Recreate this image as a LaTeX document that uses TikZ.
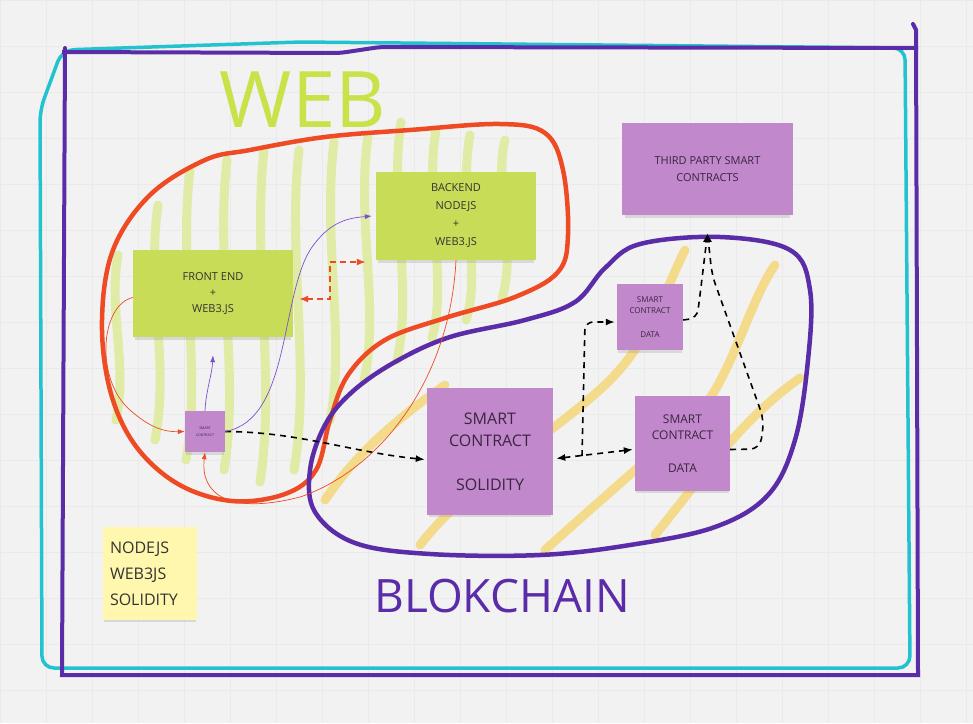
\documentclass[tikz,border=0pt]{standalone}
\usepackage{fontspec}
\setmainfont{Open Sans}
\usetikzlibrary{arrows.meta,shadows}

\definecolor{boardgray}{HTML}{F2F2F2}
\definecolor{gridgray}{HTML}{EAEAEA}
\definecolor{limefill}{HTML}{C9DC58}
\definecolor{violetfill}{HTML}{C188CB}
\definecolor{yellowfill}{HTML}{FFF7AE}
\definecolor{notetext}{HTML}{333333}
\definecolor{violettext}{HTML}{3B2542}
\definecolor{weblime}{HTML}{CBE14A}
\definecolor{webstroke}{HTML}{E0ECA6}
\definecolor{chainyellow}{HTML}{F5D672}
\definecolor{webred}{HTML}{EE4A24}
\definecolor{chainviolet}{HTML}{5B2CA8}
\definecolor{thinviolet}{HTML}{7A50D0}
\definecolor{frameteal}{HTML}{22C3CF}

\begin{document}
\begin{tikzpicture}[
  x=1pt, y=-1pt,
  stickynote/.style={inner sep=0pt, align=center, text=notetext,
    drop shadow={shadow xshift=0pt, shadow yshift=-4pt, shadow scale=0.97, opacity=0.22}},
  limenote/.style={stickynote, fill=limefill},
  violetnote/.style={stickynote, fill=violetfill, text=violettext},
  yellownote/.style={stickynote, fill=yellowfill},
  webstripe/.style={draw=webstroke, line width=9pt, line cap=round},
  chainstripe/.style={draw=chainyellow, line width=9pt, line cap=round, opacity=0.8},
  webblob/.style={draw=webred, line width=4.5pt},
  chainblob/.style={draw=chainviolet, line width=4.5pt},
  chainarrow/.style={line width=1.6pt, dash pattern=on 6pt off 5pt, -{Latex[length=9pt,width=7pt]}},
  webarrow/.style={draw=webred, line width=1.6pt, dash pattern=on 6pt off 4pt, -{Latex[length=9pt,width=7pt]}},
  thinred/.style={draw=webred, line width=0.7pt, -{Latex[length=7pt,width=5pt]}},
  thinpurple/.style={draw=thinviolet, line width=0.7pt, -{Latex[length=7pt,width=5pt]}}
]
  % board
  \fill[boardgray] (0,0) rectangle (973,723);
  \useasboundingbox (0,0) rectangle (973,723);
  \draw[gridgray, line width=0.5pt] (0,723) grid[step=46pt] (973,0);

  % web stripes
  \draw[webstripe] (118,255) .. controls (108,310) and (128,365) .. (116,420);
  \draw[webstripe] (158,205) .. controls (146,290) and (170,360) .. (155,440);
  \draw[webstripe] (190,170) .. controls (178,270) and (202,370) .. (186,460);
  \draw[webstripe] (227,160) .. controls (215,265) and (240,375) .. (224,470);
  \draw[webstripe] (264,150) .. controls (252,260) and (276,380) .. (260,482);
  \draw[webstripe] (299,150) .. controls (287,255) and (311,370) .. (294,470);
  \draw[webstripe] (334,142) .. controls (322,240) and (346,340) .. (330,420);
  \draw[webstripe] (368,136) .. controls (356,220) and (380,310) .. (364,380);
  \draw[webstripe] (401,122) .. controls (389,200) and (413,290) .. (397,360);
  \draw[webstripe] (436,130) .. controls (424,200) and (448,280) .. (432,338);
  \draw[webstripe] (470,135) .. controls (458,200) and (482,270) .. (466,320);
  \draw[webstripe] (505,140) .. controls (493,190) and (517,250) .. (502,298);

  % blockchain stripes
  \draw[chainstripe] (325,500) .. controls (355,455) and (395,420) .. (445,385);
  \draw[chainstripe] (420,545) .. controls (470,480) and (560,430) .. (610,380) .. controls (650,340) and (665,290) .. (685,250);
  \draw[chainstripe] (545,550) .. controls (600,500) and (660,450) .. (700,410) .. controls (730,380) and (750,300) .. (775,265);
  \draw[chainstripe] (655,535) .. controls (700,480) and (740,420) .. (800,378);

  % regions
  \draw[webblob] plot[smooth cycle, tension=0.6] coordinates {
    (205,160) (250,150) (325,137) (410,130) (500,124) (545,133) (563,170)
    (568,235) (558,272) (515,297) (445,318) (385,340) (348,375) (330,420)
    (316,470) (285,494) (232,501) (178,484) (135,445) (110,390) (102,320)
    (113,250) (150,195)};
  \draw[chainblob] plot[smooth cycle, tension=0.6] coordinates {
    (640,244) (720,237) (790,250) (810,290) (808,360) (795,440) (768,495)
    (715,527) (630,545) (540,555) (430,554) (355,543) (315,512) (310,470)
    (325,425) (352,392) (395,362) (450,337) (525,320) (575,302) (605,268)};

  % frames
  \draw[frameteal, line width=3.5pt, rounded corners=12pt]
    (62,50) -- (300,42) -- (905,48) -- (910,668) -- (42,668) -- (40,110) -- cycle;
  \draw[chainviolet, line width=4pt, rounded corners=6pt]
    (62,52) -- (340,53) -- (380,47) -- (918,48);
  \draw[chainviolet, line width=4pt, line cap=round]
    (913,24) -- (916,30) -- (918,675) -- (62,675) -- (65,48);

  % titles
  \node[text=weblime, font=\fontsize{78}{78}\selectfont] (webtitle) at (303,100) {WEB};
  \node[text=chainviolet, font=\fontsize{46}{46}\selectfont] (chaintitle) at (502,596) {BLOKCHAIN};

  % notes
  \node[limenote, minimum width=160pt, minimum height=87pt, font=\fontsize{11}{16}\selectfont] (front) at (213,293.5) {FRONT END\\+\\WEB3.JS};
  \node[limenote, minimum width=160pt, minimum height=88pt, font=\fontsize{11}{18}\selectfont] (backend) at (456,216) {BACKEND\\NODEJS\\+\\WEB3.JS};
  \node[violetnote, minimum width=40pt, minimum height=41pt, font=\fontsize{3.5}{7}\selectfont] (tiny) at (205,431.5) {SMART\\CONTRACT};
  \node[violetnote, minimum width=126pt, minimum height=127pt, font=\fontsize{16}{22}\selectfont] (solidity) at (490,451.5) {SMART\\CONTRACT\\[22pt]SOLIDITY};
  \node[violetnote, minimum width=66pt, minimum height=66pt, font=\fontsize{8}{11}\selectfont] (sdata) at (650,317) {SMART\\CONTRACT\\[13pt]DATA};
  \node[violetnote, minimum width=95pt, minimum height=95pt, font=\fontsize{12}{16.5}\selectfont] (bdata) at (682.5,443.5) {SMART\\CONTRACT\\[16.5pt]DATA};
  \node[violetnote, minimum width=171pt, minimum height=92pt, font=\fontsize{11}{17}\selectfont] (third) at (707.5,169) {THIRD PARTY SMART\\CONTRACTS};
  \node[yellownote, minimum width=94pt, minimum height=93pt, text width=80pt, align=left, font=\fontsize{16}{26}\selectfont] (stack) at (150,573.5) {NODEJS\\WEB3JS\\SOLIDITY};

  % connectors
  \coordinate (fork) at (582,456);
  \draw[chainarrow] (tiny.east) .. controls (300,432) and (350,452) .. ([xshift=-2pt,yshift=-8pt]solidity.west);
  \draw[chainarrow, {Latex[length=9pt,width=7pt]}-{Latex[length=9pt,width=7pt]}] ([xshift=3pt,yshift=-7pt]solidity.east) -- ([xshift=-2pt,yshift=-6pt]bdata.west);
  \draw[chainarrow, rounded corners=8pt] (fork) -- (585,322) -- ([xshift=-2pt,yshift=-5pt]sdata.west);
  \draw[chainarrow, rounded corners=8pt] ([yshift=-3pt]sdata.east) -- (697,318) -- (700,295) -- ([yshift=-18pt]third.south);
  \draw[chainarrow, rounded corners=10pt] ([yshift=-6pt]bdata.east) -- (760,449) -- (764,420) -- (712,275) -- ([yshift=-18pt]third.south);
  \draw[webarrow, {Latex[length=9pt,width=7pt]}-{Latex[length=9pt,width=7pt]}] ([xshift=6pt,yshift=-5.5pt]front.east) -- (330,299) -- (330,262) -- ([xshift=-10pt,yshift=-46pt]backend.west);
  \draw[thinpurple] (tiny.north) .. controls (206,390) and (212,375) .. ([yshift=-18pt]front.south);
  \draw[thinpurple] (tiny.east) .. controls (290,420) and (280,300) .. (310,250) .. controls (330,220) and (350,218) .. ([xshift=-4pt]backend.west);
  \draw[thinred] ([yshift=-4pt]front.west) .. controls (100,305) and (95,380) .. (130,410) .. controls (150,428) and (165,432) .. (tiny.west);
  \draw[thinred] (backend.south) .. controls (450,380) and (380,470) .. (300,497) .. controls (230,515) and (200,495) .. (tiny.south);
\end{tikzpicture}
\end{document}
